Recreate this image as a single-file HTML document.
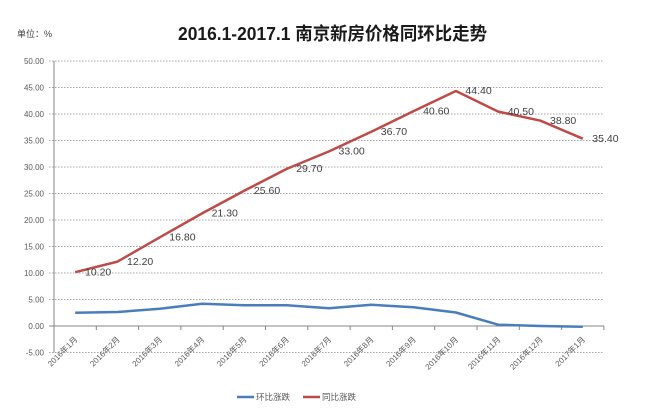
<!DOCTYPE html>
<html>
<head>
<meta charset="utf-8">
<style>
html,body{margin:0;padding:0;background:#fff;}
svg{display:block;}
text{font-family:"Liberation Sans","Noto Sans CJK SC",sans-serif;}
</style>
</head>
<body>
<svg width="656" height="411" viewBox="0 0 656 411" xmlns="http://www.w3.org/2000/svg">
<rect width="656" height="411" fill="#fff"/>
<!-- title -->
<text x="178" y="40" font-size="18" font-weight="bold" fill="#1a1a1a" textLength="309" lengthAdjust="spacingAndGlyphs">2016.1-2017.1 南京新房价格同环比走势</text>
<text x="17" y="37" font-size="9" fill="#404040">单位：%</text>

<!-- gridlines -->
<g stroke="#a6a6a6" stroke-width="1" stroke-dasharray="1.5,1.5">
<line x1="49" y1="61" x2="604" y2="61"/>
<line x1="49" y1="87.5" x2="604" y2="87.5"/>
<line x1="49" y1="114" x2="604" y2="114"/>
<line x1="49" y1="140.5" x2="604" y2="140.5"/>
<line x1="49" y1="167" x2="604" y2="167"/>
<line x1="49" y1="193.5" x2="604" y2="193.5"/>
<line x1="49" y1="220" x2="604" y2="220"/>
<line x1="49" y1="246.5" x2="604" y2="246.5"/>
<line x1="49" y1="273" x2="604" y2="273"/>
<line x1="49" y1="299.5" x2="604" y2="299.5"/>
<line x1="49" y1="352.5" x2="604" y2="352.5"/>
</g>
<!-- axes -->
<line x1="54" y1="61" x2="54" y2="352.5" stroke="#868686" stroke-width="1"/>
<line x1="49" y1="326" x2="604" y2="326" stroke="#868686" stroke-width="1"/>
<g stroke="#868686" stroke-width="1">
<line x1="96.3" y1="326" x2="96.3" y2="330"/>
<line x1="138.6" y1="326" x2="138.6" y2="330"/>
<line x1="180.9" y1="326" x2="180.9" y2="330"/>
<line x1="223.2" y1="326" x2="223.2" y2="330"/>
<line x1="265.5" y1="326" x2="265.5" y2="330"/>
<line x1="307.8" y1="326" x2="307.8" y2="330"/>
<line x1="350.1" y1="326" x2="350.1" y2="330"/>
<line x1="392.4" y1="326" x2="392.4" y2="330"/>
<line x1="434.7" y1="326" x2="434.7" y2="330"/>
<line x1="477" y1="326" x2="477" y2="330"/>
<line x1="519.3" y1="326" x2="519.3" y2="330"/>
<line x1="561.6" y1="326" x2="561.6" y2="330"/>
<line x1="603.9" y1="326" x2="603.9" y2="330"/>
</g>

<!-- y labels -->
<g font-size="8" fill="#595959" text-anchor="end">
<text x="44" y="64">50.00</text>
<text x="44" y="90.5">45.00</text>
<text x="44" y="117">40.00</text>
<text x="44" y="143.5">35.00</text>
<text x="44" y="170">30.00</text>
<text x="44" y="196.5">25.00</text>
<text x="44" y="223">20.00</text>
<text x="44" y="249.5">15.00</text>
<text x="44" y="276">10.00</text>
<text x="44" y="302.5">5.00</text>
<text x="44" y="329">0.00</text>
<text x="44" y="355.5">-5.00</text>
</g>

<!-- x labels -->
<g font-size="8" fill="#595959" text-anchor="end">
<text transform="translate(78,340) rotate(-45)">2016年1月</text>
<text transform="translate(120.3,340) rotate(-45)">2016年2月</text>
<text transform="translate(162.6,340) rotate(-45)">2016年3月</text>
<text transform="translate(204.9,340) rotate(-45)">2016年4月</text>
<text transform="translate(247.2,340) rotate(-45)">2016年5月</text>
<text transform="translate(289.5,340) rotate(-45)">2016年6月</text>
<text transform="translate(331.8,340) rotate(-45)">2016年7月</text>
<text transform="translate(374.1,340) rotate(-45)">2016年8月</text>
<text transform="translate(416.4,340) rotate(-45)">2016年9月</text>
<text transform="translate(458.7,340) rotate(-45)">2016年10月</text>
<text transform="translate(501,340) rotate(-45)">2016年11月</text>
<text transform="translate(543.3,340) rotate(-45)">2016年12月</text>
<text transform="translate(585.6,340) rotate(-45)">2017年1月</text>
</g>

<!-- series: 环比 (blue) -->
<polyline fill="none" stroke="#4a7ebb" stroke-width="2.5" stroke-linejoin="round"
points="75.2,312.7 117.5,312 159.8,308.8 202.1,303.8 244.4,305.3 286.7,305.3 329,308.3 371.3,304.8 413.6,307.2 455.9,312.5 498.2,324.7 540.5,326 582.8,326.8"/>

<!-- series: 同比 (red) -->
<polyline fill="none" stroke="#be4b48" stroke-width="2.5" stroke-linejoin="round"
points="75.2,272.2 117.5,261.6 159.8,237.3 202.1,213.4 244.4,190.6 286.7,168.9 329,151.4 371.3,131.8 413.6,111.1 455.9,91 498.2,111.6 540.5,120.7 582.8,138.7"/>

<!-- data labels -->
<g font-size="10.5" fill="#404040" dominant-baseline="middle">
<text x="85" y="272.7">10.20</text>
<text x="127" y="262">12.20</text>
<text x="169.3" y="237.7">16.80</text>
<text x="211.6" y="213.8">21.30</text>
<text x="253.9" y="191">25.60</text>
<text x="296.2" y="169.3">29.70</text>
<text x="338.5" y="151.8">33.00</text>
<text x="380.8" y="132.2">36.70</text>
<text x="423.1" y="111.5">40.60</text>
<text x="465.4" y="91.4">44.40</text>
<text x="507.7" y="112">40.50</text>
<text x="550" y="121.1">38.80</text>
<text x="592.3" y="139.1">35.40</text>
</g>

<!-- legend -->
<line x1="237" y1="397" x2="254" y2="397" stroke="#4a7ebb" stroke-width="2.5"/>
<text x="256" y="400" font-size="8.5" fill="#595959">环比涨跌</text>
<line x1="303" y1="397" x2="320" y2="397" stroke="#be4b48" stroke-width="2.5"/>
<text x="322" y="400" font-size="8.5" fill="#595959">同比涨跌</text>
</svg>
</body>
</html>
